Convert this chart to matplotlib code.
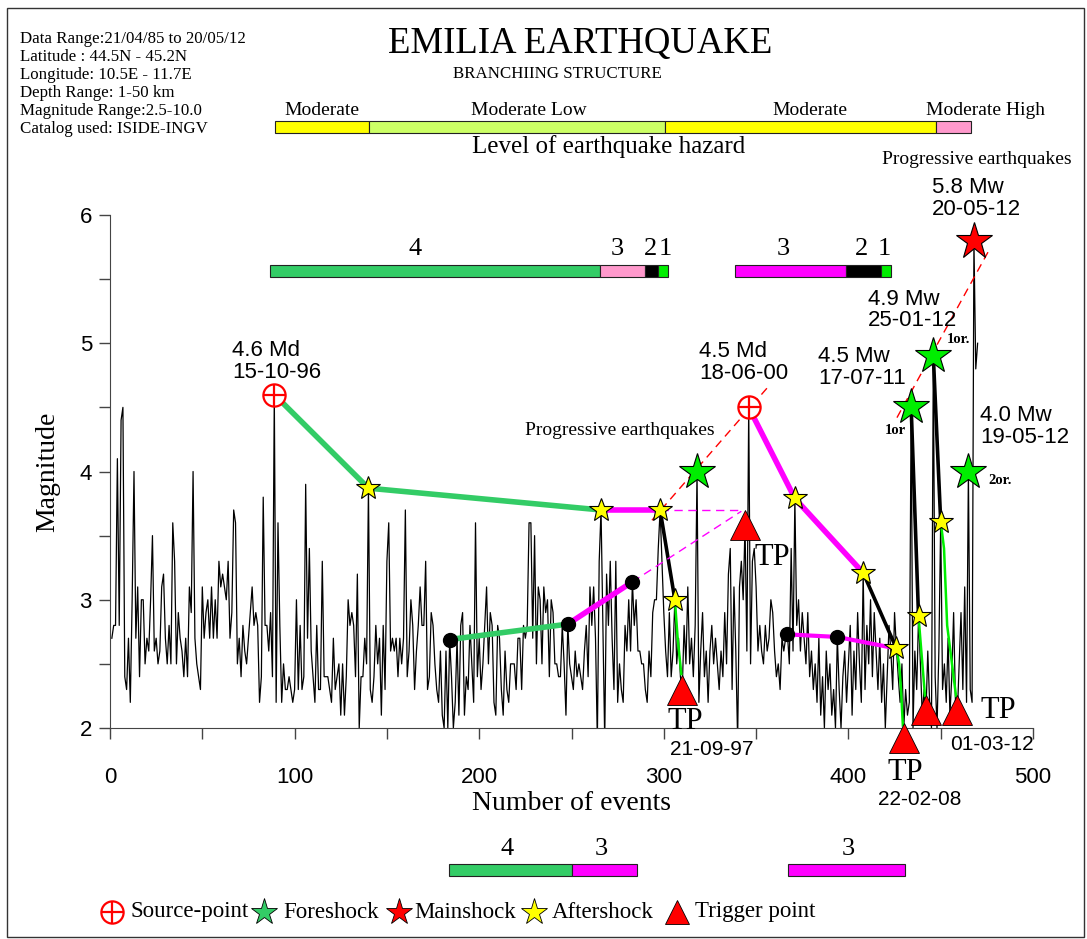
import numpy as np
import matplotlib
matplotlib.use("Agg")
import matplotlib.pyplot as plt
from matplotlib.patches import Rectangle
from matplotlib.lines import Line2D
from matplotlib.ticker import MultipleLocator

SERIF = ["Liberation Serif", "DejaVu Serif"]
SANS = ["Liberation Sans", "DejaVu Sans"]

W, H = 1087, 939

# magnitude of every event in catalogue order (event number = index + 1)
magnitudes = [
    2.7, 2.8, 2.8, 4.1, 2.8, 4.4, 4.5, 2.4, 2.3, 2.7,
    2.2, 3.0, 4.0, 2.7, 3.1, 2.4, 3.0, 3.0, 2.5, 2.7,
    2.6, 3.0, 3.5, 2.6, 2.7, 2.5, 2.6, 3.1, 3.2, 2.7,
    2.5, 2.8, 2.5, 3.6, 3.3, 2.5, 2.9, 2.7, 2.6, 2.4,
    2.7, 2.4, 3.1, 2.9, 4.0, 2.7, 2.5, 2.4, 2.3, 3.1,
    2.7, 2.9, 3.0, 2.7, 3.1, 2.7, 3.0, 2.7, 3.3, 3.1,
    3.2, 3.1, 3.0, 3.3, 2.7, 2.9, 3.7, 3.6, 2.5, 2.7,
    2.4, 2.8, 2.6, 2.5, 2.7, 2.9, 3.1, 2.8, 2.9, 2.8,
    2.2, 2.4, 3.8, 2.8, 2.8, 2.6, 2.9, 2.4, 4.6, 2.2,
    3.6, 2.8, 2.2, 2.5, 2.3, 2.3, 2.4, 2.3, 2.2, 2.3,
    3.0, 2.3, 2.8, 2.3, 2.4, 3.9, 2.7, 3.4, 2.6, 2.4,
    2.2, 2.8, 2.3, 2.3, 3.3, 2.4, 2.4, 2.4, 2.3, 2.2,
    2.7, 2.3, 2.4, 2.5, 2.1, 2.5, 2.1, 2.4, 3.0, 2.8,
    2.9, 2.8, 2.4, 3.2, 2.0, 2.4, 2.4, 2.7, 2.5, 3.87,
    2.3, 2.2, 2.4, 2.8, 2.5, 2.7, 2.1, 2.8, 2.3, 3.3,
    3.6, 2.6, 2.7, 2.6, 2.7, 2.4, 2.7, 2.5, 2.7, 3.7,
    2.4, 2.6, 3.0, 2.8, 2.3, 2.6, 2.8, 3.1, 2.8, 2.8,
    3.3, 2.3, 2.4, 2.9, 2.8, 2.5, 2.3, 2.2, 2.6, 2.1,
    2.0, 2.6, 2.0, 2.69, 2.4, 2.0, 2.2, 2.7, 2.1, 2.8,
    2.9, 2.1, 2.4, 2.3, 2.8, 2.5, 2.2, 3.6, 2.4, 2.7,
    2.3, 2.5, 2.8, 3.1, 2.5, 2.9, 2.8, 2.2, 2.1, 2.8,
    2.7, 2.3, 2.1, 2.6, 2.3, 2.2, 2.5, 2.5, 2.5, 2.3,
    2.7, 2.7, 2.3, 2.8, 2.7, 2.8, 3.6, 3.6, 2.7, 3.5,
    2.5, 3.1, 3.0, 2.5, 3.1, 2.9, 3.0, 2.4, 3.0, 2.9,
    2.5, 2.5, 2.4, 2.4, 2.8, 2.5, 2.1, 2.81, 2.5, 2.4,
    2.3, 2.6, 2.4, 2.5, 2.4, 2.3, 2.6, 2.8, 2.4, 3.1,
    2.8, 3.1, 2.7, 1.9, 3.3, 3.7, 2.8, 1.9, 3.2, 2.8,
    3.3, 2.7, 2.3, 3.3, 2.2, 2.5, 2.3, 2.2, 2.8, 2.6,
    3.0, 2.6, 3.14, 2.8, 3.0, 2.6, 2.6, 2.5, 2.5, 2.3,
    2.2, 2.6, 2.4, 2.9, 3.0, 3.0, 3.4, 3.7, 3.3, 2.9,
    2.6, 2.4, 2.9, 2.4, 2.6, 3.0, 2.5, 2.7, 2.4, 2.3,
    2.8, 2.5, 3.1, 2.5, 2.7, 2.4, 2.8, 4.0, 2.2, 2.6,
    2.9, 2.4, 2.6, 2.2, 2.6, 2.8, 2.5, 2.7, 2.5, 2.3,
    2.6, 2.4, 2.9, 2.5, 3.2, 3.4, 2.3, 3.1, 2.6, 1.9,
    3.1, 3.3, 3.0, 3.58, 2.6, 4.5, 2.5, 3.3, 3.4, 3.1,
    2.6, 2.8, 2.6, 2.5, 2.8, 2.6, 2.7, 3.0, 2.9, 2.6,
    2.4, 2.5, 2.3, 2.7, 2.6, 2.7, 2.73, 2.5, 3.4, 2.6,
    3.79, 2.8, 3.0, 2.6, 2.9, 2.7, 2.5, 2.9, 2.4, 2.6,
    2.3, 2.5, 2.2, 2.7, 2.1, 2.4, 2.0, 2.6, 2.3, 2.5,
    2.1, 2.3, 2.0, 2.71, 2.3, 2.0, 2.4, 2.6, 2.2, 2.5,
    2.8, 2.1, 2.6, 2.3, 2.9, 2.5, 2.2, 3.21, 2.3, 2.8,
    2.5, 3.0, 2.4, 2.9, 2.6, 2.3, 2.7, 2.2, 2.5, 2.0,
    2.4, 2.8, 2.6, 2.3, 2.9, 2.62, 2.4, 2.2, 2.5, 2.0,
    2.3, 2.1, 2.2, 4.5, 2.0, 2.6, 2.3, 2.87, 2.5, 2.1,
    2.3, 2.1, 2.6, 2.2, 2.0, 4.9, 2.4, 2.0, 2.6, 3.61,
    2.3, 2.5, 2.2, 2.7, 2.1, 2.4, 2.9, 2.2, 2.1, 2.5,
    2.9, 2.3, 3.1, 2.2, 4.0, 2.3, 2.2, 5.8, 4.8, 5.0,
]

# classified events
source_x, source_y = [89, 346], [4.6, 4.5]
foreshock_x, foreshock_y = [318, 434, 446, 465], [4.0, 4.5, 4.9, 4.0]
mainshock_x, mainshock_y = [468], [5.8]
aftershock_x = [140, 266, 298, 306, 371, 408, 426, 438, 450]
aftershock_y = [3.87, 3.70, 3.70, 3.00, 3.79, 3.21, 2.62, 2.87, 3.61]
trigger_x, trigger_y = [310, 344, 430, 442, 459], [2.30, 3.58, 1.92, 2.14, 2.14]
node_x, node_y = [184, 248, 283, 367, 394], [2.69, 2.81, 3.14, 2.73, 2.71]

# branches (x list, y list)
green_branches = [([89, 140, 266], [4.6, 3.87, 3.70]),
                  ([184, 248], [2.69, 2.81])]
magenta_branches = [([266, 298], [3.70, 3.70]),
                    ([248, 283], [2.81, 3.14]),
                    ([346, 371, 408], [4.5, 3.79, 3.21])]
magenta_low = ([367, 394, 426], [2.73, 2.71, 2.62])
black_branches = [([298, 306], [3.70, 3.00]),
                  ([408, 426], [3.21, 2.62]),
                  ([434, 438], [4.5, 2.87]),
                  ([446, 450], [4.9, 3.61])]
trigger_links = [([306, 307.5, 309.5], [3.00, 2.7, 2.42]),
                 ([426, 427.5, 428.5, 429.5], [2.62, 2.5, 2.3, 2.02]),
                 ([438, 439.5, 441.5], [2.87, 2.6, 2.25]),
                 ([450, 451.8, 453.5, 458.3], [3.61, 3.4, 2.8, 2.25])]
dashed_magenta = [([283, 342], [3.14, 3.69]), ([298, 342], [3.70, 3.70])]
dashed_red = [([293.6, 355.9], [3.62, 4.65]), ([426.3, 475.6], [4.42, 5.71])]

# hazard level bar
hazard_edges = [89.4, 140.3, 300.6, 447.5, 466.4]
hazard_colors = ["#ffff00", "#ccff66", "#ffff00", "#ff99cc"]
hazard_labels = ["Moderate", "Moderate Low", "Moderate", "Moderate High"]
hazard_label_x = [114.8, 227.0, 379.2, 474.5]

# branch order bars
order_bars = [
    ([86.7, 265.4, 289.8, 296.9, 302.3], ["#33cc66", "#ff99cc", "black", "#00ee00"]),
    ([338.6, 398.7, 417.7, 423.1], ["#ff00ff", "black", "#00ee00"]),
]
order_labels = ["4", "3", "2", "1", "3", "2", "1"]
order_label_x = [165.2, 275.0, 292.6, 300.7, 364.6, 407.0, 419.3]

lower_bars = [
    ([183.6, 250.3, 285.5], ["#33cc66", "#ff00ff"]),
    ([367.3, 430.7], ["#ff00ff"]),
]
lower_labels = ["4", "3", "3"]
lower_label_x = [215.0, 266.0, 399.8]

info_lines = ["Data Range:21/04/85 to 20/05/12", "Latitude : 44.5N - 45.2N",
              "Longitude: 10.5E - 11.7E", "Depth Range: 1-50 km",
              "Magnitude Range:2.5-10.0", "Catalog used: ISIDE-INGV"]


def fx(px):
    return px / W


def fy(py):
    return 1 - py / H


fig = plt.figure(figsize=(W / 100, H / 100), dpi=100)
ax = fig.add_axes([fx(110), fy(728), (1033 - 110) / W, (728 - 215) / H])

events = np.arange(1, len(magnitudes) + 1)
ax.plot(events, magnitudes, color="black", lw=0.9, zorder=2)

for xs, ys in green_branches:
    ax.plot(xs, ys, color="#33cc66", lw=4, solid_capstyle="round", zorder=3)
for xs, ys in magenta_branches:
    ax.plot(xs, ys, color="#ff00ff", lw=4, solid_capstyle="round", zorder=3)
ax.plot(*magenta_low, color="#ff00ff", lw=3, zorder=3)
for xs, ys in black_branches:
    ax.plot(xs, ys, color="black", lw=2.6, zorder=3)
for xs, ys in trigger_links:
    ax.plot(xs, ys, color="#00ee00", lw=1.8, zorder=3, clip_on=False)
for xs, ys in dashed_magenta:
    ax.plot(xs, ys, color="#ff00ff", lw=1, dashes=(6, 4), zorder=3)
for xs, ys in dashed_red:
    ax.plot(xs, ys, color="red", lw=1, dashes=(6, 4), zorder=3)

ax.plot(node_x, node_y, "o", color="black", ms=10, zorder=4)
ax.plot(source_x, source_y, "o", mfc="white", mec="red", mew=1.6, ms=16, zorder=5)
ax.plot(source_x, source_y, "+", color="red", mew=1.6, ms=16, zorder=5)
ax.plot(aftershock_x, aftershock_y, "*", mfc="#ffff00", mec="black", mew=0.8, ms=18, zorder=5)
ax.plot(foreshock_x, foreshock_y, "*", mfc="#00ee00", mec="black", mew=0.8, ms=27, zorder=5)
ax.plot(mainshock_x, mainshock_y, "*", mfc="red", mec="black", mew=0.8, ms=28, zorder=5,
        clip_on=False)
ax.plot(trigger_x, trigger_y, "^", mfc="red", mec="black", mew=0.6, ms=22, zorder=5,
        clip_on=False)

ax.set_xlim(0, 500)
ax.set_ylim(2, 6)
ax.xaxis.set_major_locator(MultipleLocator(100))
ax.xaxis.set_minor_locator(MultipleLocator(50))
ax.yaxis.set_major_locator(MultipleLocator(1))
ax.yaxis.set_minor_locator(MultipleLocator(0.5))
for side in ["top", "right"]:
    ax.spines[side].set_visible(False)
for side in ["left", "bottom"]:
    ax.spines[side].set_color("#444444")
ax.tick_params(which="both", direction="out", length=8, width=1, color="#444444")
ax.tick_params(axis="x", pad=20)
ax.tick_params(axis="y", pad=5)
for lab in ax.get_xticklabels() + ax.get_yticklabels():
    lab.set_fontfamily(SANS)
    lab.set_fontsize(16)
ax.set_xlabel("Number of events", fontfamily=SERIF, fontsize=20, labelpad=2)
ax.set_ylabel("Magnitude", fontfamily=SERIF, fontsize=20, labelpad=14)

# event annotations
quake_notes = [(66.1, 4.86, "4.6 Md\n15-10-96"), (319.0, 4.85, "4.5 Md\n18-06-00"),
               (383.5, 4.81, "4.5 Mw\n17-07-11"), (410.6, 5.26, "4.9 Mw\n25-01-12"),
               (445.3, 6.13, "5.8 Mw\n20-05-12"), (471.3, 4.35, "4.0 Mw\n19-05-12")]
for x, y, s in quake_notes:
    ax.text(x, y, s, fontfamily=SANS, fontsize=16, ha="left", va="center",
            linespacing=1.05, clip_on=False, zorder=6)
ax.text(224.8, 4.32, "Progressive earthquakes", fontfamily=SERIF, fontsize=14,
        ha="left", va="center")
ax.text(418.2, 6.43, "Progressive earthquakes", fontfamily=SERIF, fontsize=14,
        ha="left", va="center", clip_on=False)
for x, y, s in [(425.2, 4.32, "1or"), (459.4, 5.03, "1or."), (482.1, 3.93, "2or.")]:
    ax.text(x, y, s, fontfamily=SERIF, fontsize=10.5, fontweight="bold",
            ha="center", va="center")
for x, y in [(311.5, 2.05), (358.6, 3.33), (430.7, 1.65), (481.0, 2.14)]:
    ax.text(x, y, "TP", fontfamily=SERIF, fontsize=22, ha="center", va="center",
            clip_on=False)
for x, y, s in [(326.1, 1.83, "21-09-97"), (438.8, 1.44, "22-02-08"),
                (477.8, 1.87, "01-03-12")]:
    ax.text(x, y, s, fontfamily=SANS, fontsize=15, ha="center", va="center",
            clip_on=False)

# bars placed along the event axis
xt = ax.get_xaxis_transform()


def draw_bar(edges, colors, y0, y1):
    for a, b, c in zip(edges[:-1], edges[1:], colors):
        ax.add_patch(Rectangle((a, y0), b - a, y1 - y0, transform=xt, facecolor=c,
                               edgecolor="#222222", lw=0.8, clip_on=False))


draw_bar(hazard_edges, hazard_colors, 1.1598, 1.1832)
for x, s in zip(hazard_label_x, hazard_labels):
    ax.text(x, 1.203, s, transform=xt, fontfamily=SERIF, fontsize=14,
            ha="center", va="center")

for edges, colors in order_bars:
    draw_bar(edges, colors, 0.879, 0.9025)
for x, s in zip(order_label_x, order_labels):
    ax.text(x, 0.934, s, transform=xt, fontfamily=SERIF, fontsize=19,
            ha="center", va="center")

for edges, colors in lower_bars:
    draw_bar(edges, colors, -0.288, -0.265)
for x, s in zip(lower_label_x, lower_labels):
    ax.text(x, -0.236, s, transform=xt, fontfamily=SERIF, fontsize=19,
            ha="center", va="center")

# header
fig.text(fx(580), fy(44), "EMILIA EARTHQUAKE", fontfamily=SERIF, fontsize=26.5,
         ha="center", va="center")
fig.text(fx(557), fy(74), "BRANCHIING STRUCTURE", fontfamily=SERIF, fontsize=12.2,
         ha="center", va="center")
fig.text(fx(609), fy(147), "Level of earthquake hazard", fontfamily=SERIF, fontsize=18,
         ha="center", va="center")
for i, line in enumerate(info_lines):
    fig.text(fx(20), fy(39 + 18 * i), line, fontfamily=SERIF, fontsize=12.2,
             ha="left", va="center")

# legend row
ly = fy(912)
fig.add_artist(Line2D([fx(112)], [ly], marker="o", mfc="white", mec="red", mew=1.6,
                      ms=16, transform=fig.transFigure))
fig.add_artist(Line2D([fx(112)], [ly], marker="+", color="red", mew=1.6, ms=16,
                      transform=fig.transFigure))
fig.add_artist(Line2D([fx(264)], [ly], marker="*", mfc="#33cc66", mec="black", mew=0.6,
                      ms=20, transform=fig.transFigure))
fig.add_artist(Line2D([fx(399)], [ly], marker="*", mfc="red", mec="black", mew=0.6,
                      ms=20, transform=fig.transFigure))
fig.add_artist(Line2D([fx(534)], [ly], marker="*", mfc="#ffff00", mec="black", mew=0.6,
                      ms=20, transform=fig.transFigure))
fig.add_artist(Line2D([fx(677)], [ly], marker="^", mfc="red", mec="black", mew=0.6,
                      ms=17, transform=fig.transFigure))
for px, s in [(131, "Source-point"), (283, "Foreshock"), (414, "Mainshock"),
              (552, "Aftershock"), (695, "Trigger point")]:
    fig.text(fx(px), ly, s, fontfamily=SERIF, fontsize=16.5, ha="left", va="center")

# frame round the whole figure
fig.add_artist(Rectangle((fx(7), fy(937)), fx(1084) - fx(7), fy(8) - fy(937),
                         transform=fig.transFigure, fill=False, edgecolor="#333333", lw=1))

fig.savefig("out.png", dpi=100)
